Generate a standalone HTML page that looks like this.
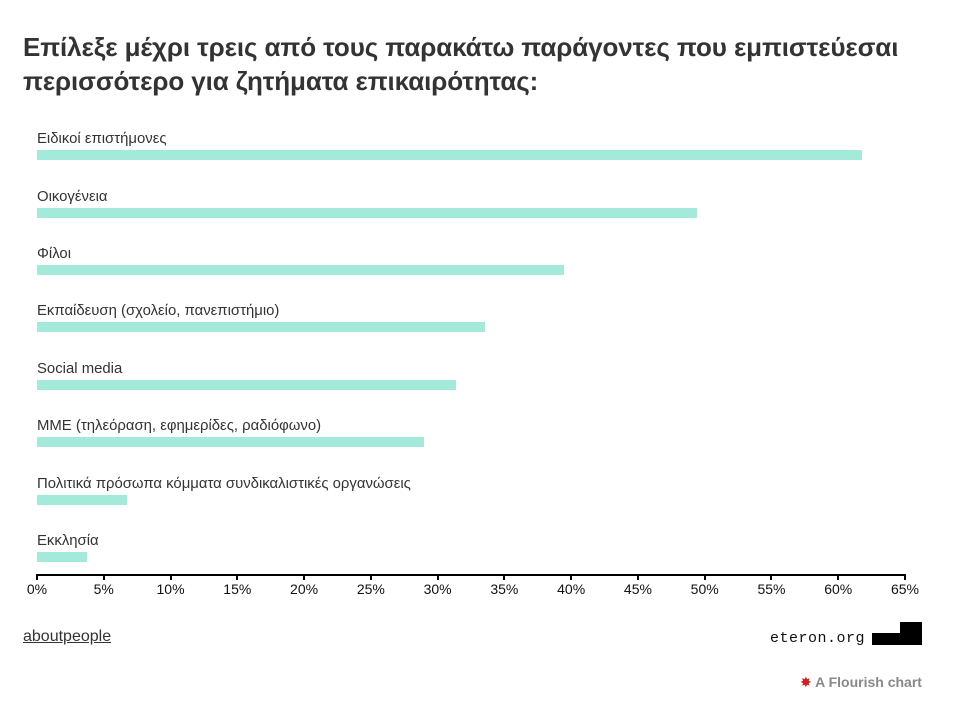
<!DOCTYPE html>
<html><head><meta charset="utf-8"><style>
body{margin:0;width:980px;height:712px;background:#fff;position:relative;overflow:hidden;font-family:"Liberation Sans","DejaVu Sans",sans-serif;color:#333}
.t{position:absolute;left:23px;top:30px;font-size:26px;font-weight:bold;line-height:34px;color:#333;letter-spacing:-0.1px;white-space:nowrap}
.l{position:absolute;left:37px;font-size:14.9px;color:#333;white-space:nowrap}
.b{position:absolute;left:37px;height:10px;background:#a3eada}
.ax{position:absolute;left:36px;top:574px;width:870px;height:2px;background:#000}
.tk{position:absolute;top:574px;width:2px;height:6px;background:#000}
.tl{position:absolute;top:581px;font-size:14px;color:#111;width:50px;margin-left:-25px;text-align:center}
</style></head><body>
<div class="t">Επίλεξε μέχρι τρεις από τους παρακάτω παράγοντες που εμπιστεύεσαι<br>περισσότερο για ζητήματα επικαιρότητας:</div>
<div class="l" style="top:131px">Ειδικοί επιστήμονες</div><div class="b" style="top:150px;width:825px"></div>
<div class="l" style="top:189px">Οικογένεια</div><div class="b" style="top:208px;width:660px"></div>
<div class="l" style="top:246px">Φίλοι</div><div class="b" style="top:265px;width:527px"></div>
<div class="l" style="top:303px">Εκπαίδευση (σχολείο, πανεπιστήμιο)</div><div class="b" style="top:322px;width:448px"></div>
<div class="l" style="top:361px">Social media</div><div class="b" style="top:380px;width:419px"></div>
<div class="l" style="top:418px">ΜΜΕ (τηλεόραση, εφημερίδες, ραδιόφωνο)</div><div class="b" style="top:437px;width:387px"></div>
<div class="l" style="top:476px">Πολιτικά πρόσωπα κόμματα συνδικαλιστικές οργανώσεις</div><div class="b" style="top:495px;width:90px"></div>
<div class="l" style="top:533px">Εκκλησία</div><div class="b" style="top:552px;width:50px"></div>
<div class="ax"></div>
<div id="ticks"></div>
<script>
var h='';for(var i=0;i<=13;i++){var x=36+i*868/13;h+='<div class="tk" style="left:'+x+'px"></div><div class="tl" style="left:'+(x+1)+'px">'+(i*5)+'%</div>';}
document.getElementById('ticks').innerHTML=h;
</script>
<div style="position:absolute;left:23px;top:628px;font-size:16px;color:#333;text-decoration:underline">aboutpeople</div>
<div style="position:absolute;left:770px;top:630px;font-size:15px;font-family:'Liberation Mono',monospace;color:#111;letter-spacing:0.5px">eteron.org</div>
<div style="position:absolute;left:872px;top:633px;width:30px;height:12px;background:#000"></div>
<div style="position:absolute;left:900px;top:622px;width:22px;height:23px;background:#000"></div>
<div style="position:absolute;left:800px;top:674px;font-size:14px;font-weight:bold;color:#888"><span style="color:#c22">✸</span> A Flourish chart</div>
</body></html>
